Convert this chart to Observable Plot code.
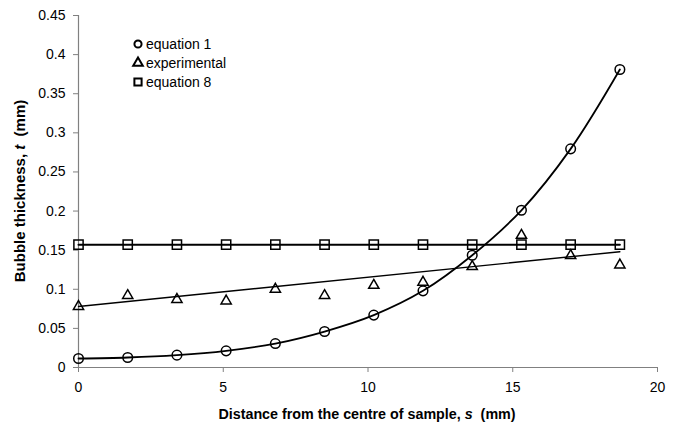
<!DOCTYPE html>
<html>
<head>
<meta charset="utf-8">
<script src="https://cdn.jsdelivr.net/npm/d3@7"></script>
<script src="https://cdn.jsdelivr.net/npm/@observablehq/plot@0.6"></script>
<style>
  html, body { margin: 0; padding: 0; background: #fff; }
  #chart { width: 680px; height: 424px; }
</style>
</head>
<body>
<div id="chart"></div>
<script>
// ---- data ----
const distance = [0, 1.7, 3.4, 5.1, 6.8, 8.5, 10.2, 11.9, 13.6, 15.3, 17.0, 18.7];
const equation1 = [0.0115, 0.0128, 0.0158, 0.0213, 0.0306, 0.046, 0.067, 0.098, 0.1435, 0.201, 0.2795, 0.381];
const experimental = [0.078, 0.092, 0.087, 0.085, 0.100, 0.092, 0.105, 0.109, 0.129, 0.169, 0.143, 0.131];
const equation8 = [0.157, 0.157, 0.157, 0.157, 0.157, 0.157, 0.157, 0.157, 0.157, 0.157, 0.157, 0.157];
const trendDistance = [0, 18.7];
const trendThickness = [0.078, 0.148];
const xTicks = [0, 5, 10, 15, 20];
const yTicks = [0, 0.05, 0.1, 0.15, 0.2, 0.25, 0.3, 0.35, 0.4, 0.45];
const seriesNames = ["equation 1", "experimental", "equation 8"];

// ---- tables built from the arrays ----
const eq1Data = distance.map((s, i) => ({s, t: equation1[i]}));
const expData = distance.map((s, i) => ({s, t: experimental[i]}));
const eq8Data = distance.map((s, i) => ({s, t: equation8[i]}));
const trendData = trendDistance.map((s, i) => ({s, t: trendThickness[i]}));

const axisGray = "#808080";
const fontFamily = "'Liberation Sans', Arial, Helvetica, sans-serif";

const plot = Plot.plot({
  width: 680,
  height: 424,
  marginLeft: 78,
  marginRight: 23,
  marginTop: 15,
  marginBottom: 57,
  style: {fontFamily, fontSize: "14px", background: "#fff", color: "#000"},
  x: {domain: [0, 20], label: null},
  y: {domain: [0, 0.45], label: null},
  marks: [
    Plot.ruleX([0], {stroke: axisGray, strokeWidth: 1.2}),
    Plot.ruleY([0], {stroke: axisGray, strokeWidth: 1.2}),
    Plot.axisX({ticks: xTicks, tickSize: 5, tickPadding: 10, stroke: axisGray, fill: "#000", label: null, tickFormat: d => String(d)}),
    Plot.axisY({ticks: yTicks, tickSize: 5, tickPadding: 8, stroke: axisGray, fill: "#000", label: null, tickFormat: d => String(+d.toFixed(2))}),
    Plot.line(eq8Data, {x: "s", y: "t", stroke: "#000", strokeWidth: 2}),
    Plot.line(trendData, {x: "s", y: "t", stroke: "#000", strokeWidth: 1.4}),
    Plot.line(eq1Data, {x: "s", y: "t", stroke: "#000", strokeWidth: 1.8, curve: "catmull-rom"}),
    Plot.dot(eq8Data, {x: "s", y: "t", symbol: "square", r: 5.2, stroke: "#000", strokeWidth: 1.5, fill: "none"}),
    Plot.dot(expData, {x: "s", y: "t", symbol: "triangle", r: 3.8, stroke: "#000", strokeWidth: 1.5, fill: "none"}),
    Plot.dot(eq1Data, {x: "s", y: "t", symbol: "circle", r: 4.8, stroke: "#000", strokeWidth: 1.5, fill: "none"})
  ]
});

document.getElementById("chart").appendChild(plot);

// ---- axis titles (mixed bold / italic) and legend ----
const svg = d3.select(plot);

const xt = svg.append("text")
  .attr("x", 367).attr("y", 419)
  .attr("text-anchor", "middle")
  .attr("font-family", fontFamily)
  .attr("font-size", 14.3)
  .attr("font-weight", "bold")
  .attr("fill", "#000");
xt.append("tspan").text("Distance from the centre of sample, ");
xt.append("tspan").attr("font-style", "italic").text("s");
xt.append("tspan").text("\u00a0 (mm)");

const yt = svg.append("text")
  .attr("transform", "translate(25,191) rotate(-90)")
  .attr("text-anchor", "middle")
  .attr("font-family", fontFamily)
  .attr("font-size", 15)
  .attr("font-weight", "bold")
  .attr("fill", "#000");
yt.append("tspan").text("Bubble thickness, ");
yt.append("tspan").attr("font-style", "italic").text("t");
yt.append("tspan").text("\u00a0 (mm)");

const legendSymbols = [d3.symbolCircle, d3.symbolTriangle, d3.symbolSquare];
const legendSizes = [40, 40, 52];
const legend = svg.append("g").attr("transform", "translate(138,44)");
seriesNames.forEach((name, i) => {
  const g = legend.append("g").attr("transform", `translate(0,${i * 19})`);
  g.append("path")
    .attr("d", d3.symbol(legendSymbols[i], legendSizes[i])())
    .attr("fill", "none")
    .attr("stroke", "#000")
    .attr("stroke-width", 2);
  g.append("text")
    .attr("x", 8).attr("y", 0)
    .attr("dy", "0.36em")
    .attr("text-anchor", "start")
    .attr("font-family", fontFamily)
    .attr("font-size", 14)
    .attr("fill", "#000")
    .text(name);
});
</script>
</body>
</html>
